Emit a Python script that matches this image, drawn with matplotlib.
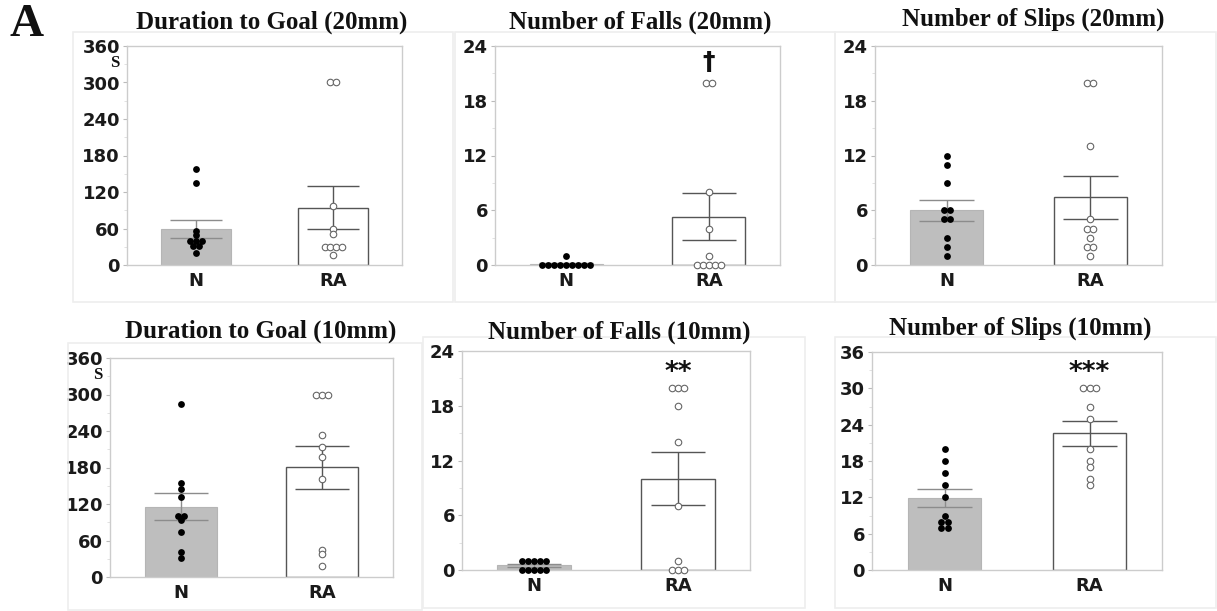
import numpy as np
import matplotlib
matplotlib.use("Agg")
import matplotlib.pyplot as plt
from matplotlib.patches import Rectangle
from matplotlib.ticker import MultipleLocator

# groups on the x axis
groups = ["N", "RA"]

# individual animal values (10 per group)
dur20_n = [157, 135, 56, 49, 40, 40, 40, 31, 31, 19]
dur20_ra = [300, 300, 97, 60, 51, 29, 29, 29, 29, 16]
falls20_n = [1, 0, 0, 0, 0, 0, 0, 0, 0, 0]
falls20_ra = [20, 20, 8, 4, 1, 0, 0, 0, 0, 0]
slips20_n = [12, 11, 9, 6, 6, 5, 5, 3, 2, 1]
slips20_ra = [20, 20, 13, 5, 4, 4, 3, 2, 2, 1]
dur10_n = [285, 155, 144, 131, 101, 101, 93, 74, 41, 32]
dur10_ra = [300, 300, 300, 233, 213, 198, 161, 45, 37, 18]
falls10_n = [1, 1, 1, 1, 1, 0, 0, 0, 0, 0]
falls10_ra = [20, 20, 20, 18, 14, 7, 1, 0, 0, 0]
slips10_n = [20, 18, 16, 14, 12, 9, 8, 8, 7, 7]
slips10_ra = [30, 30, 30, 27, 25, 20, 18, 17, 15, 14]

titles = ["Duration to Goal (20mm)", "Number of Falls (20mm)", "Number of Slips (20mm)",
          "Duration to Goal (10mm)", "Number of Falls (10mm)", "Number of Slips (10mm)"]
y_max = [360, 24, 24, 360, 24, 36]
y_step = [60, 6, 6, 60, 6, 6]
sig_marks = ["", "\u2020", "", "", "**", "***"]
sig_y = [0, 22.3, 0, 0, 21.6, 32.6]

W, H = 1217, 611
fig = plt.figure(figsize=(W / 100, H / 100), dpi=100)


def px_box(left, right, top, bottom):
    return [left / W, 1 - bottom / H, (right - left) / W, (bottom - top) / H]


# axes boxes in pixels (left, right, top, bottom)
ax_boxes = [(127, 402, 46, 265), (495, 780, 46, 265), (875, 1162, 46, 265),
            (110, 393, 358, 577), (462, 750, 351, 570), (872, 1162, 352, 570)]
frames = [(73, 453, 32, 302), (455, 835, 32, 302), (835, 1216, 32, 302),
          (68, 422, 343, 610), (423, 805, 337, 608), (835, 1216, 337, 608)]
title_pos = [(272, 22), (640, 22), (1033, 19), (261, 331), (619, 332), (1020, 328)]

data = [(dur20_n, dur20_ra), (falls20_n, falls20_ra), (slips20_n, slips20_ra),
        (dur10_n, dur10_ra), (falls10_n, falls10_ra), (slips10_n, slips10_ra)]

# faint panel frames
for (l, r, t, b) in frames:
    x0, y0, w, h = px_box(l, r, t, b)
    fig.add_artist(Rectangle((x0, y0), w, h, transform=fig.transFigure,
                             fill=False, edgecolor="#eeeeee", lw=1.2))


def spread(vals, gap):
    # put equal values side by side, centred on the group
    vals = np.asarray(vals, dtype=float)
    offs = np.zeros(len(vals))
    for v in np.unique(vals):
        idx = np.where(vals == v)[0]
        k = len(idx)
        offs[idx] = (np.arange(k) - (k - 1) / 2) * gap
    return offs


for i, (n_vals, ra_vals) in enumerate(data):
    ax = fig.add_axes(px_box(*ax_boxes[i]))
    gap = 0.042
    for j, vals in enumerate([n_vals, ra_vals]):
        vals = np.asarray(vals, dtype=float)
        mean = vals.mean()
        sem = vals.std(ddof=1) / np.sqrt(len(vals))
        if j == 0:
            ax.bar(j, mean, width=0.51, color="#bebebe", edgecolor="#b5b5b5", lw=0.8, zorder=1)
            ecol = "#8c8c8c"
        else:
            ax.bar(j, mean, width=0.51, color="white", edgecolor="#555555", lw=1.0, zorder=1)
            ecol = "#555555"
        ax.vlines(j, mean - sem, mean + sem, color=ecol, lw=1.0, zorder=2)
        ax.hlines([mean - sem, mean + sem], j - 0.19, j + 0.19, color=ecol, lw=1.0, zorder=2)
        xs = j + spread(vals, gap)
        if j == 0:
            ax.scatter(xs, vals, s=24, color="black", zorder=3, clip_on=False, lw=0)
        else:
            ax.scatter(xs, vals, s=22, facecolor="white", edgecolor="#666666",
                       lw=0.8, zorder=3, clip_on=False)

    if sig_marks[i]:
        fs = 18 if sig_marks[i] == "\u2020" else 19
        ax.text(1, sig_y[i], sig_marks[i], ha="center", va="center", fontsize=fs,
                fontweight="bold", color="#111111")

    ax.set_xlim(-0.5, 1.5)
    ax.set_ylim(0, y_max[i])
    ax.yaxis.set_major_locator(MultipleLocator(y_step[i]))
    ax.yaxis.set_minor_locator(MultipleLocator(y_step[i] / 2))
    ax.set_xticks([0, 1])
    ax.set_xticklabels(groups)
    for lab in ax.get_xticklabels() + ax.get_yticklabels():
        lab.set_fontweight("bold")
        lab.set_color("#1a1a1a")
    ax.tick_params(axis="y", which="major", labelsize=13, length=3, color="#bbbbbb", pad=2)
    ax.tick_params(axis="y", which="minor", length=2, color="#dddddd")
    ax.tick_params(axis="x", labelsize=13, length=0, pad=5)
    for sp in ax.spines.values():
        sp.set_color("#cccccc")
        sp.set_linewidth(1.0)

    tx, ty = title_pos[i]
    fig.text(tx / W, 1 - ty / H, titles[i], ha="center", va="center",
             family="Liberation Serif", fontweight="bold", fontsize=18, color="#111111")

    if y_max[i] == 360:
        l, r, t, b = ax_boxes[i]
        fig.text((l - 12) / W, 1 - (t + 17) / H, "S", ha="center", va="center",
                 family="Liberation Serif", fontweight="bold", fontsize=12, color="#111111")

fig.text(27 / W, 1 - 25 / H, "A", ha="center", va="center", family="Liberation Serif",
         fontweight="bold", fontsize=34, color="#111111")

fig.savefig("out.png", dpi=100)
